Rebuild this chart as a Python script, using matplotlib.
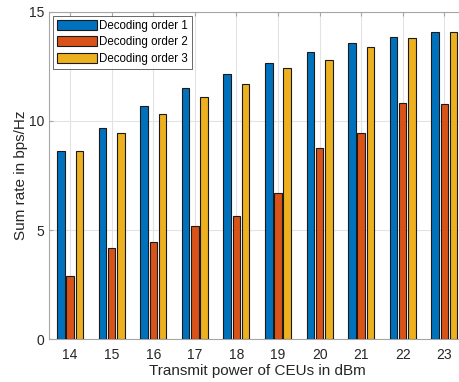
import matplotlib
matplotlib.use('Agg')
import matplotlib.pyplot as plt
import numpy as np

plt.rcParams['font.family'] = ['Liberation Sans', 'DejaVu Sans']

power = [14, 15, 16, 17, 18, 19, 20, 21, 22, 23]
order1 = [8.62, 9.69, 10.70, 11.52, 12.15, 12.64, 13.17, 13.55, 13.83, 14.06]
order2 = [2.91, 4.18, 4.46, 5.17, 5.65, 6.68, 8.74, 9.43, 10.80, 10.77]
order3 = [8.62, 9.46, 10.30, 11.08, 11.67, 12.42, 12.77, 13.38, 13.78, 14.06]
names = ['Decoding order 1', 'Decoding order 2', 'Decoding order 3']
colors = ['#0072BD', '#D95319', '#EDB120']

fig = plt.figure(figsize=(4.6, 3.82), dpi=100)
ax = fig.add_axes([49.3 / 460, 42.7 / 382, (465.1 - 49.3) / 460, 327.6 / 382])

x = np.array(power)
off = 0.222
w = 0.18
for i, vals in enumerate([order1, order2, order3]):
    ax.bar(x + (i - 1) * off, vals, width=w, color=colors[i],
           edgecolor='#1a1a1a', linewidth=0.8, label=names[i], zorder=3)

ax.set_xlim(13.5, 23.5)
ax.set_ylim(0, 15)
ax.set_xticks(power)
ax.set_yticks([0, 5, 10, 15])
ax.grid(True, color='#e3e3e3', linewidth=0.8, zorder=0)
ax.set_axisbelow(True)

for s in ax.spines.values():
    s.set_color('#a6a6a6')
    s.set_linewidth(0.8)
ax.tick_params(direction='in', length=3, width=0.8, color='#a6a6a6',
               labelcolor='#262626', labelsize=10, top=True, right=True)
ax.tick_params(axis='x', pad=6)

ax.set_xlabel('Transmit power of CEUs in dBm', fontsize=11, color='#262626', labelpad=2)
ax.set_ylabel('Sum rate in bps/Hz', fontsize=11, color='#262626', labelpad=1)

leg = ax.legend(loc='upper left', prop={'size': 8.3}, frameon=True, fancybox=False,
                edgecolor='#262626', handlelength=3.4, handleheight=0.95,
                borderaxespad=0.35, labelspacing=0.4, handletextpad=0.25,
                borderpad=0.35)
leg.get_frame().set_linewidth(0.6)

fig.savefig('out.png', dpi=100)
